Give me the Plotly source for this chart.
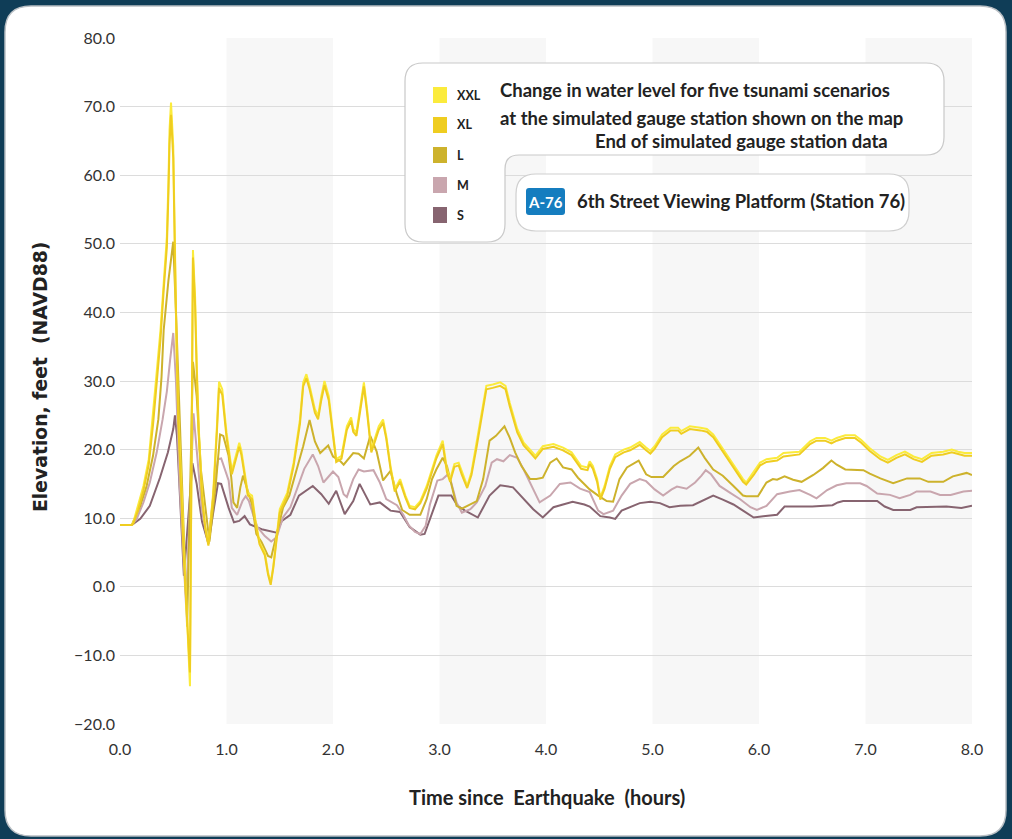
import plotly.graph_objects as go

# ---------------- data (hours, feet NAVD88) ----------------
t_yel = [0.00,0.11,0.125,0.17,0.22,0.27,0.31,0.34,0.38,0.41,
         0.44,0.455,0.465,0.479,0.50,0.516,0.53,0.547,0.60,0.657,
         0.685,0.705,0.72,0.74,0.77,0.80,0.83,0.875,0.91,0.93,
         0.96,1.00,1.05,1.10,1.12,1.14,1.17,1.20,1.24,1.27,
         1.31,1.36,1.39,1.415,1.44,1.47,1.50,1.57,1.63,1.69,
         1.72,1.75,1.78,1.83,1.86,1.89,1.92,1.96,2.00,2.03,
         2.08,2.13,2.17,2.19,2.22,2.29,2.32,2.36,2.43,2.47,
         2.50,2.54,2.58,2.63,2.68,2.72,2.77,2.82,2.88,2.93,
         2.97,3.03,3.07,3.10,3.14,3.18,3.21,3.26,3.30,3.35,
         3.40,3.44,3.50,3.57,3.62,3.66,3.73,3.79,3.85,3.90,
         3.97,4.07,4.16,4.24,4.33,4.39,4.41,4.44,4.48,4.51,
         4.55,4.60,4.65,4.73,4.79,4.85,4.88,4.94,4.98,5.02,
         5.09,5.17,5.24,5.27,5.35,5.45,5.51,5.57,5.63,5.70,
         5.77,5.85,5.88,5.95,6.01,6.07,6.17,6.23,6.38,6.48,
         6.54,6.62,6.68,6.73,6.81,6.90,6.96,7.04,7.14,7.21,
         7.29,7.37,7.45,7.53,7.62,7.73,7.81,7.87,7.93,8.00]

xxl = [9.0,9.0,9.4,11.8,14.7,18.6,24.9,30.5,37.4,44.7,
       51.0,59.3,66.6,70.6,64.2,49.6,35.0,25.3,5.0,-14.5,
       49.1,42.3,32.6,23.0,13.7,8.9,6.2,13.7,23.4,29.9,
       28.8,22.5,16.9,20.0,21.0,19.8,16.7,13.7,13.3,9.9,
       6.5,5.0,2.1,0.6,3.1,6.9,11.3,13.7,18.1,24.4,
       29.8,31.0,29.3,25.9,24.9,27.8,30.0,27.8,22.0,18.6,
       19.1,23.4,24.7,23.0,22.5,29.8,25.9,20.0,23.4,24.4,
       22.0,17.6,14.2,15.7,13.3,11.8,11.6,12.5,14.7,17.1,
       19.1,21.3,17.1,15.7,17.9,18.1,16.7,14.7,16.7,21.0,
       25.9,29.3,29.5,29.8,29.3,26.8,23.0,21.0,20.0,19.1,
       20.5,20.8,20.3,19.6,17.6,17.4,18.3,17.6,15.7,13.0,
       14.7,17.6,19.3,20.0,20.3,20.8,21.1,20.3,19.8,20.5,
       22.2,23.2,23.2,22.7,23.4,23.2,23.0,22.2,20.8,19.3,
       17.6,15.7,15.2,16.7,18.1,18.6,18.8,19.5,19.7,21.2,
       21.7,21.7,21.3,21.7,22.1,22.1,21.4,20.2,19.0,18.5,
       19.2,19.7,19.0,18.6,19.5,19.7,20.0,19.7,19.5,19.5]

xl = [9.0,9.0,9.2,11.2,14.0,17.8,23.6,29.2,36.0,43.2,
      49.5,57.5,64.5,68.8,62.5,48.0,34.0,24.0,4.0,-12.5,
      48.0,41.0,31.5,22.0,13.0,8.5,6.0,13.0,22.6,29.0,
      28.0,21.8,16.4,19.4,20.4,19.2,16.2,13.3,12.8,9.5,
      6.2,4.6,1.8,0.3,2.8,6.5,10.8,13.2,17.6,23.8,
      29.2,30.4,28.8,25.4,24.4,27.2,29.4,27.2,21.5,18.2,
      18.7,22.9,24.2,22.6,22.0,29.2,25.4,19.6,22.9,23.9,
      21.6,17.2,13.9,15.3,13.0,11.5,11.3,12.2,14.3,16.7,
      18.7,20.8,16.7,15.3,17.5,17.7,16.3,14.4,16.3,20.5,
      25.4,28.8,29.0,29.3,28.8,26.3,22.5,20.6,19.6,18.7,
      20.1,20.4,19.9,19.2,17.2,17.0,17.9,17.2,15.3,12.7,
      14.3,17.2,18.9,19.6,19.9,20.4,20.7,19.9,19.4,20.1,
      21.8,22.8,22.8,22.3,23.0,22.8,22.6,21.8,20.4,18.9,
      17.2,15.3,14.9,16.3,17.7,18.2,18.4,19.0,19.3,20.8,
      21.3,21.3,20.9,21.3,21.7,21.7,21.0,19.8,18.6,18.1,
      18.8,19.3,18.6,18.2,19.1,19.3,19.6,19.3,19.1,19.1]

t_L = [0.00,0.11,0.19,0.25,0.31,0.36,0.39,0.41,0.455,0.50,
       0.53,0.58,0.63,0.685,0.72,0.76,0.84,0.90,0.94,0.97,
       1.02,1.045,1.065,1.10,1.13,1.155,1.19,1.24,1.28,1.33,
       1.39,1.42,1.47,1.53,1.59,1.66,1.69,1.72,1.78,1.83,
       1.88,1.955,2.00,2.07,2.10,2.19,2.24,2.29,2.35,2.41,
       2.47,2.54,2.60,2.65,2.72,2.82,2.88,2.93,2.97,3.03,
       3.07,3.12,3.16,3.21,3.29,3.35,3.41,3.47,3.53,3.61,
       3.66,3.71,3.77,3.85,3.91,3.97,4.04,4.10,4.16,4.24,
       4.30,4.38,4.41,4.49,4.57,4.63,4.69,4.76,4.87,4.94,
       4.99,5.10,5.20,5.26,5.35,5.43,5.49,5.57,5.66,5.76,
       5.85,5.88,5.99,6.07,6.13,6.17,6.24,6.32,6.40,6.51,
       6.60,6.68,6.73,6.81,6.98,7.04,7.14,7.26,7.39,7.51,
       7.59,7.73,7.82,7.95,8.00]
v_L = [9.0,9.0,11.8,14.7,19.1,24.4,30.6,37.4,44.7,50.3,
       38.0,15.0,-5.8,32.8,27.8,17.0,6.6,15.0,22.2,22.0,
       19.1,15.9,12.3,11.5,14.5,16.2,14.5,12.0,7.7,6.5,
       4.5,4.3,7.6,11.5,13.3,17.1,18.6,20.5,24.3,21.2,
       19.5,20.6,19.0,18.3,17.8,19.5,19.4,18.7,22.0,19.7,
       15.5,16.9,13.5,11.2,10.5,10.5,12.8,15.7,17.1,18.8,
       17.6,14.2,11.8,11.4,12.0,12.5,15.7,21.3,22.0,23.4,
       21.7,19.6,17.6,15.7,15.7,15.9,18.1,18.7,17.4,17.1,
       15.9,14.6,14.2,13.3,12.5,12.4,15.7,17.4,18.4,16.4,
       16.0,16.0,17.6,18.3,19.1,20.3,18.8,17.1,16.2,14.7,
       13.3,13.2,13.2,15.2,15.7,15.6,16.1,15.6,15.3,16.3,
       17.3,18.4,17.8,17.1,17.0,16.5,15.8,15.1,15.8,15.8,
       15.3,15.3,16.1,16.6,16.3]

t_M = [0.00,0.11,0.157,0.22,0.28,0.345,0.40,0.44,0.47,0.50,
       0.525,0.56,0.62,0.69,0.72,0.77,0.83,0.88,0.92,0.95,
       1.02,1.05,1.10,1.15,1.18,1.21,1.25,1.29,1.36,1.42,
       1.47,1.53,1.60,1.67,1.73,1.81,1.86,1.91,2.00,2.05,
       2.10,2.13,2.19,2.24,2.29,2.38,2.44,2.50,2.60,2.66,
       2.71,2.77,2.82,2.87,2.91,2.98,3.03,3.08,3.11,3.16,
       3.21,3.29,3.35,3.43,3.49,3.54,3.60,3.66,3.73,3.79,
       3.88,3.94,4.04,4.13,4.23,4.32,4.41,4.49,4.54,4.63,
       4.71,4.79,4.88,4.94,5.02,5.10,5.18,5.23,5.32,5.40,
       5.46,5.50,5.55,5.63,5.73,5.82,5.92,5.98,6.07,6.17,
       6.29,6.38,6.48,6.54,6.64,6.73,6.82,6.95,7.01,7.11,
       7.23,7.32,7.42,7.48,7.61,7.70,7.80,7.92,8.00]
v_M = [9.0,9.0,9.9,12.3,15.2,19.6,24.4,28.5,33.0,37.0,
       30.1,15.0,-2.6,25.3,20.0,11.0,6.3,14.0,18.6,18.7,
       15.5,11.5,10.5,12.5,13.2,12.5,10.5,8.7,7.4,6.6,
       7.2,10.1,11.6,14.7,17.2,19.3,17.6,15.2,16.8,16.0,
       13.5,13.1,15.7,17.1,16.8,17.0,15.2,12.8,11.9,10.5,
       9.0,8.0,7.7,8.9,12.0,15.5,15.7,16.4,15.2,12.3,
       10.8,11.3,12.3,14.7,18.1,18.6,18.3,19.2,18.8,17.1,
       14.2,12.3,13.3,15.0,15.2,14.3,13.8,11.1,10.6,11.1,
       13.3,15.0,15.7,15.4,14.2,13.3,14.2,14.6,14.3,15.2,
       16.2,17.0,16.4,14.7,13.7,12.8,11.6,11.2,11.8,13.5,
       13.9,14.1,13.4,12.9,14.1,14.8,15.1,15.1,14.7,13.6,
       13.4,12.9,13.4,13.9,13.9,13.4,13.4,13.9,14.0]

t_S = [0.00,0.11,0.19,0.28,0.375,0.45,0.50,0.516,0.535,0.60,
       0.68,0.72,0.77,0.83,0.88,0.92,0.95,1.02,1.07,1.12,
       1.17,1.22,1.33,1.47,1.52,1.60,1.68,1.75,1.81,1.89,
       1.96,2.03,2.11,2.19,2.25,2.35,2.44,2.54,2.63,2.72,
       2.82,2.86,2.91,2.99,3.11,3.17,3.24,3.36,3.47,3.57,
       3.69,3.78,3.88,3.97,4.07,4.25,4.36,4.41,4.51,4.60,
       4.65,4.71,4.79,4.88,4.98,5.07,5.16,5.26,5.38,5.48,
       5.57,5.66,5.76,5.85,5.95,6.04,6.13,6.17,6.24,6.38,
       6.50,6.69,6.74,6.79,6.92,7.11,7.18,7.26,7.42,7.48,
       7.76,7.90,8.00]
v_S = [9.0,9.0,9.9,11.8,15.9,19.6,23.0,25.0,22.0,1.6,
       18.0,15.0,9.5,6.3,11.3,15.1,15.0,11.5,9.4,9.6,
       10.3,9.1,8.4,7.9,9.6,10.5,13.3,14.1,14.7,13.5,
       12.1,14.0,10.6,12.5,15.0,12.0,12.3,11.1,10.9,8.7,
       7.6,7.7,9.9,13.3,13.3,11.8,11.1,10.1,13.3,14.8,
       14.5,13.0,11.3,10.1,11.6,12.4,12.0,11.7,10.3,10.1,
       9.9,11.1,11.6,12.2,12.4,12.2,11.6,11.8,11.9,12.7,
       13.3,12.7,12.0,11.1,10.1,10.3,10.4,10.5,11.7,11.7,
       11.7,11.9,12.3,12.5,12.5,12.5,11.7,11.2,11.2,11.6,
       11.7,11.5,11.8]

scenarios = ["XXL", "XL", "L", "M", "S"]
colors = {"XXL": "#fbeb3c", "XL": "#efcd20", "L": "#cdb22c",
          "M": "#c9a6ae", "S": "#876470"}
x_ticks = [0, 1, 2, 3, 4, 5, 6, 7, 8]
x_ticktext = ["0.0", "1.0", "2.0", "3.0", "4.0", "5.0", "6.0", "7.0", "8.0"]
y_ticks = [-20, -10, 0, 10, 20, 30, 40, 50, 60, 70, 80]
shaded_hours = [1, 3, 5, 7]

# ---------------- layout geometry ----------------
W, H = 1012, 839
LM, RM, TM, BM = 120, 40, 38, 115
PW, PH = W - LM - RM, H - TM - BM
BG = "#0f3d57"


def px(x):
    return (x - LM) / PW


def py(y):
    return (H - BM - y) / PH


def path_from(points):
    out = []
    for cmd, pts in points:
        s = cmd + " " + " ".join(f"{px(a):.5f},{py(b):.5f}" for a, b in pts)
        out.append(s)
    return " ".join(out) + " Z"


def rrect(x0, y0, x1, y1, r):
    return path_from([
        ("M", [(x0 + r, y0)]), ("L", [(x1 - r, y0)]), ("Q", [(x1, y0), (x1, y0 + r)]),
        ("L", [(x1, y1 - r)]), ("Q", [(x1, y1), (x1 - r, y1)]),
        ("L", [(x0 + r, y1)]), ("Q", [(x0, y1), (x0, y1 - r)]),
        ("L", [(x0, y0 + r)]), ("Q", [(x0, y0), (x0 + r, y0)]),
    ])


fig = go.Figure()

for name, t, v in [("S", t_S, v_S), ("M", t_M, v_M), ("L", t_L, v_L),
                   ("XXL", t_yel, xxl), ("XL", t_yel, xl)]:
    fig.add_trace(go.Scatter(x=t, y=v, mode="lines", name=name,
                             line=dict(color=colors[name], width=2),
                             showlegend=False, hoverinfo="skip"))

shapes = []
# card
shapes.append(dict(type="path", xref="paper", yref="paper", layer="below",
                   path=rrect(5, 6, 1006, 836, 26), fillcolor="white",
                   line=dict(color="#b9bfc4", width=1.5)))
# shaded hour bands
for h in shaded_hours:
    shapes.append(dict(type="rect", xref="x", yref="paper", layer="below",
                       x0=h, x1=h + 1, y0=0, y1=1, fillcolor="#f7f7f7",
                       line=dict(width=0)))

# legend / title box (L shape)
r, r2 = 18, 14
x0, y0, x1, y1, xm, ym = 405, 63, 944, 155, 505, 242
lpath = path_from([
    ("M", [(x0 + r, y0)]), ("L", [(x1 - r, y0)]), ("Q", [(x1, y0), (x1, y0 + r)]),
    ("L", [(x1, y1 - r)]), ("Q", [(x1, y1), (x1 - r, y1)]),
    ("L", [(xm + r2, y1)]), ("Q", [(xm, y1), (xm, y1 + r2)]),
    ("L", [(xm, ym - r)]), ("Q", [(xm, ym), (xm - r, ym)]),
    ("L", [(x0 + r, ym)]), ("Q", [(x0, ym), (x0, ym - r)]),
    ("L", [(x0, y0 + r)]), ("Q", [(x0, y0), (x0 + r, y0)]),
])
shapes.append(dict(type="path", xref="paper", yref="paper", layer="above",
                   path=lpath, fillcolor="white", line=dict(color="#c9c9c9", width=1.2)))
# station box
shapes.append(dict(type="path", xref="paper", yref="paper", layer="above",
                   path=rrect(516, 174, 909, 231, 20), fillcolor="white",
                   line=dict(color="#cfcfcf", width=1.2)))
# A-76 badge
shapes.append(dict(type="path", xref="paper", yref="paper", layer="above",
                   path=rrect(526, 188, 565, 215, 3), fillcolor="#157dbf",
                   line=dict(width=0)))

annotations = []
# legend squares + labels
leg_y = [95, 125, 155, 185, 215]
for name, yc in zip(scenarios, leg_y):
    shapes.append(dict(type="rect", xref="paper", yref="paper", layer="above",
                       x0=px(433), x1=px(447), y0=py(yc + 8), y1=py(yc - 8),
                       fillcolor=colors[name], line=dict(width=0)))
    annotations.append(dict(x=px(455), y=py(yc), xref="paper", yref="paper",
                            text=name, showarrow=False, xanchor="left", yanchor="middle",
                            font=dict(family="Lato", size=12.5, color="#222", weight="bold")))

tfont = dict(family="Lato", size=18.5, color="#222", weight="bold")
annotations += [
    dict(x=px(498), y=py(90), text="Change in water level for five tsunami scenarios"),
    dict(x=px(498), y=py(118), text="at the simulated gauge station shown on the map"),
    dict(x=px(593), y=py(141), text="End of simulated gauge station data"),
    dict(x=px(575), y=py(201), text="6th Street Viewing Platform (Station 76)"),
]
for a in annotations[-4:]:
    a.update(xref="paper", yref="paper", showarrow=False, xanchor="left",
             yanchor="middle", font=tfont)
annotations.append(dict(x=px(545.5), y=py(202), xref="paper", yref="paper", text="A-76",
                        showarrow=False, xanchor="center", yanchor="middle",
                        font=dict(family="Lato", size=15, color="white", weight="bold")))
# axis titles
annotations.append(dict(x=px(547), y=py(797), xref="paper", yref="paper",
                        text="Time since\u00a0 Earthquake\u00a0 (hours)", showarrow=False,
                        xanchor="center", yanchor="middle",
                        font=dict(family="Lato", size=20, color="#222", weight="bold")))
annotations.append(dict(x=px(40), y=py(377), xref="paper", yref="paper",
                        text="Elevation, feet\u00a0 (NAVD88)", showarrow=False, textangle=-90,
                        xanchor="center", yanchor="middle",
                        font=dict(family="DejaVu Sans", size=18.8, color="#222", weight="bold")))

fig.update_layout(
    width=W, height=H,
    margin=dict(l=LM, r=RM, t=TM, b=BM),
    paper_bgcolor=BG,
    plot_bgcolor="rgba(0,0,0,0)",
    shapes=shapes,
    annotations=annotations,
    xaxis=dict(range=[0, 8], tickvals=x_ticks, ticktext=x_ticktext, showgrid=False,
               zeroline=False, showline=False, ticks="", ticklabelstandoff=14,
               tickfont=dict(family="Lato", size=16, color="#333")),
    yaxis=dict(range=[-20, 80], tickvals=y_ticks, tickformat=".1f", showgrid=True,
               gridcolor="#dcdcdc", gridwidth=1, zeroline=False, showline=False,
               ticks="", ticklabelstandoff=4,
               tickfont=dict(family="Lato", size=16, color="#333")),
    showlegend=False,
)

fig.write_html(
    "out.html",
    config={"displayModeBar": False},
    post_script="document.body.style.margin='0';document.body.style.background='%s';"
                "document.body.style.overflow='hidden';" % BG,
)
